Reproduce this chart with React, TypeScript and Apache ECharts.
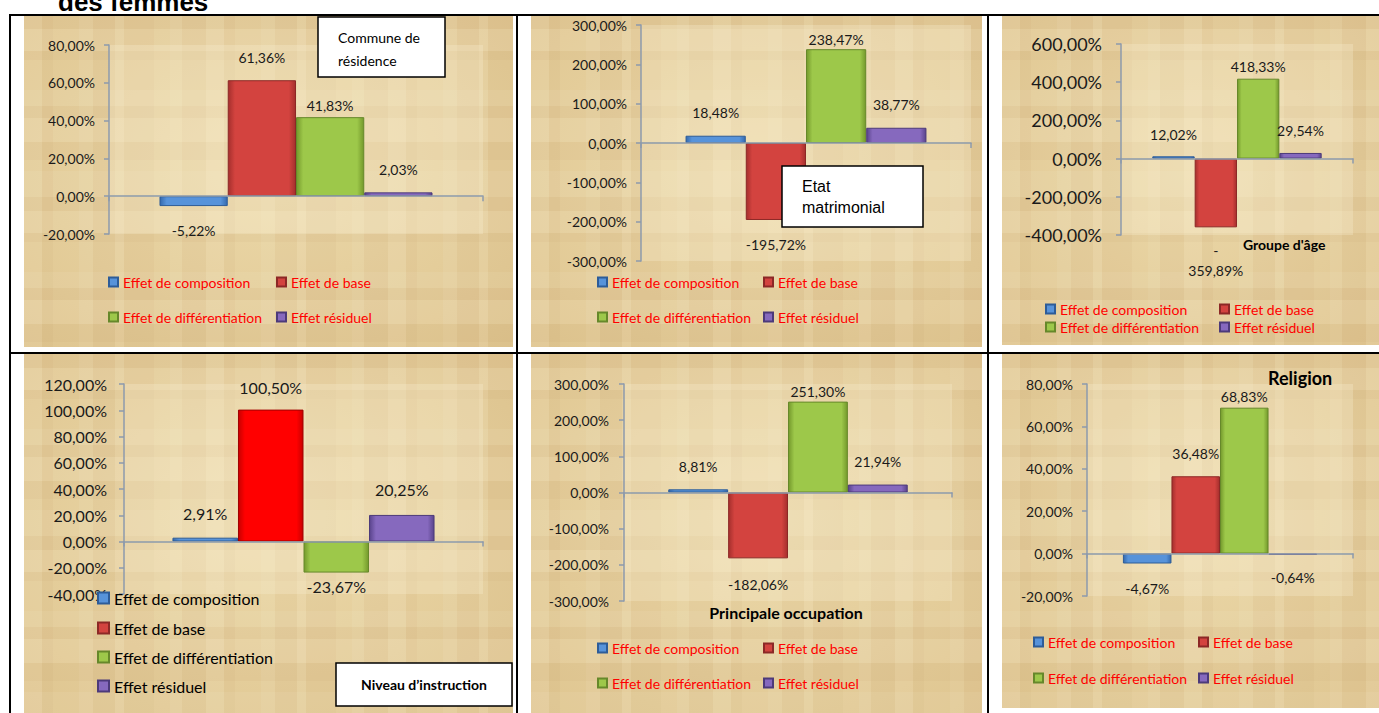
import React, { useEffect, useRef } from 'react';
import * as echarts from 'echarts';

// ---------- data ----------
const effectNames = ['Effet de composition', 'Effet de base', 'Effet de différentiation', 'Effet résiduel'];
const category = ['Femmes'];

const communeValues = [-5.22, 61.36, 41.83, 2.03];
const matrimonialValues = [18.48, -195.72, 238.47, 38.77];
const ageValues = [12.02, -359.89, 418.33, 29.54];
const instructionValues = [2.91, 100.5, -23.67, 20.25];
const occupationValues = [8.81, -182.06, 251.3, 21.94];
const religionValues = [-4.67, 36.48, 68.83, -0.64];

const communeTicks = [-20, 0, 20, 40, 60, 80];
const matrimonialTicks = [-300, -200, -100, 0, 100, 200, 300];
const ageTicks = [-400, -200, 0, 200, 400, 600];
const instructionTicks = [-40, -20, 0, 20, 40, 60, 80, 100, 120];
const occupationTicks = [-300, -200, -100, 0, 100, 200, 300];
const religionTicks = [-20, 0, 20, 40, 60, 80];

const chartTitles = ['Commune de\nrésidence', 'Etat\nmatrimonial', "Groupe d'âge", 'Niveau d’instruction', 'Principale occupation', 'Religion'];
const pageHeading = 'des femmes';

// ---------- styles / layout ----------
const LG = echarts.graphic.LinearGradient;
const bevel = (edge: string, mid: string) =>
  new LG(0, 0, 1, 0, [
    { offset: 0, color: edge },
    { offset: 0.1, color: mid },
    { offset: 0.9, color: mid },
    { offset: 1, color: edge },
  ]);
const effectColors = [
  { fill: bevel('#356AAE', '#5793DA'), border: '#2D5C98' },
  { fill: bevel('#A52F2D', '#D3433F'), border: '#8C2826' },
  { fill: bevel('#74992C', '#9DC84A'), border: '#66882A' },
  { fill: bevel('#5A448C', '#8669BE'), border: '#4C3A7A' },
];
const brightRed = { fill: bevel('#C80000', '#FF0000'), border: '#A00000' };

type Layout = {
  values: number[];
  ticks: number[];
  grid: number[];
  font: number;
  axisFont: number;
  margin: number;
  dist: number[];
  legendPos: number[][];
  legendFont: number;
  legendColor: string;
  icon: number;
  wrapNeg?: boolean;
  redOverride?: boolean;
};

const layouts: Layout[] = [
  {
    values: communeValues, ticks: communeTicks, grid: [109, 45, 374, 189], font: 14, axisFont: 14, margin: 14,
    dist: [14, 13, 2, 13], legendPos: [[108, 282], [276, 282], [108, 317], [276, 317]], legendFont: 14, legendColor: '#FF0000', icon: 9,
  },
  {
    values: matrimonialValues, ticks: matrimonialTicks, grid: [641, 25, 330, 236], font: 14, axisFont: 14, margin: 14,
    dist: [13, 15, 0, 13], legendPos: [[597, 282], [763, 282], [597, 317], [763, 317]], legendFont: 14, legendColor: '#FF0000', icon: 9,
  },
  {
    values: ageValues, ticks: ageTicks, grid: [1121, 44, 232, 191], font: 14, axisFont: 18, margin: 19,
    dist: [12, 13, 2, 12], legendPos: [[1045, 309], [1219, 309], [1045, 327], [1219, 327]], legendFont: 14, legendColor: '#FF0000', icon: 9, wrapNeg: true,
  },
  {
    values: instructionValues, ticks: instructionTicks, grid: [124, 384, 359, 210], font: 16, axisFont: 16, margin: 17,
    dist: [13, 11, 3, 14], legendPos: [[97, 598], [97, 628], [97, 657], [97, 686]], legendFont: 16, legendColor: '#000000', icon: 11, redOverride: true,
  },
  {
    values: occupationValues, ticks: occupationTicks, grid: [624, 384, 328, 217], font: 14, axisFont: 14, margin: 15,
    dist: [13, 16, 0, 13], legendPos: [[597, 648], [763, 648], [597, 683], [763, 683]], legendFont: 14, legendColor: '#FF0000', icon: 9,
  },
  {
    values: religionValues, ticks: religionTicks, grid: [1087, 384, 266, 212], font: 14, axisFont: 14, margin: 14,
    dist: [15, 13, 1, 13], legendPos: [[1033, 642], [1198, 642], [1033, 678], [1198, 678]], legendFont: 14, legendColor: '#FF0000', icon: 9,
  },
];

const cells = [
  [24, 15, 489, 332],
  [531, 15, 451, 332],
  [1002, 15, 377, 330],
  [24, 354, 489, 359],
  [531, 354, 451, 359],
  [1002, 354, 377, 354],
];

const stripeWidths = [18, 11, 26, 14, 22, 9, 30, 16, 12, 24];
const stripeTones = ['rgba(255,250,230,0.10)', 'rgba(150,110,50,0.04)', 'rgba(255,255,255,0)', 'rgba(255,250,235,0.07)', 'rgba(150,110,50,0.03)'];

const fmt = (v: number) => v.toFixed(2).replace('.', ',') + '%';
const FONT = 'Lato, "Open Sans", sans-serif';
const AXIS_COLOR = '#8C9AAC';

function paperElements(): any[] {
  const els: any[] = [];
  cells.forEach(([x0, y0, w, h]) => {
    els.push({
      type: 'rect', z: -20, silent: true,
      shape: { x: x0, y: y0, width: w, height: h },
      style: {
        fill: new echarts.graphic.RadialGradient(0.5, 0.45, 0.8, [
          { offset: 0, color: '#ECD9AA' },
          { offset: 1, color: '#DEC48E' },
        ]),
      },
    });
    let x = x0, i = 0;
    while (x < x0 + w) {
      const sw = Math.min(stripeWidths[i % stripeWidths.length], x0 + w - x);
      els.push({ type: 'rect', z: -19, silent: true, shape: { x, y: y0, width: sw, height: h }, style: { fill: stripeTones[i % stripeTones.length] } });
      x += sw; i++;
    }
    let y = y0; i = 3;
    while (y < y0 + h) {
      const sh = Math.min(stripeWidths[i % stripeWidths.length], y0 + h - y);
      els.push({ type: 'rect', z: -18, silent: true, shape: { x: x0, y, width: w, height: sh }, style: { fill: stripeTones[(i + 1) % stripeTones.length] } });
      y += sh; i++;
    }
  });
  return els;
}

function borderElements(): any[] {
  const line = (x1: number, y1: number, x2: number, y2: number) => ({
    type: 'line', z: 50, silent: true,
    shape: { x1, y1, x2, y2 },
    style: { stroke: '#000', lineWidth: 2 },
  });
  return [
    line(10, 15, 1379, 15),
    line(10, 353, 1379, 353),
    line(10, 14, 10, 713),
    line(517, 14, 517, 713),
    line(988, 14, 988, 713),
  ];
}

function textEl(text: string, x: number, y: number, size: number, opts: any = {}) {
  return {
    type: 'text', z: 101, x, y, silent: true,
    style: {
      text,
      fontSize: size,
      fontFamily: opts.family || FONT,
      fontWeight: opts.weight || 'normal',
      fill: '#000',
      align: opts.align || 'left',
      verticalAlign: 'middle',
      textAlign: opts.align || 'left',
      textVerticalAlign: 'middle',
      lineHeight: opts.lineHeight || size * 1.3,
    },
  };
}

function boxEl(x: number, y: number, w: number, h: number) {
  return {
    type: 'rect', z: 100, silent: true,
    shape: { x, y, width: w, height: h },
    style: { fill: '#fff', stroke: '#000', lineWidth: 1.5 },
  };
}

function titleElements(): any[] {
  return [
    textEl(pageHeading, 58, 2, 26, { family: '"Liberation Sans", Arial, sans-serif', weight: 'bold' }),
    boxEl(318, 17, 127, 60),
    textEl(chartTitles[0], 338, 48.5, 14, { lineHeight: 23 }),
    boxEl(782, 166, 141, 61),
    textEl(chartTitles[1], 802, 196.5, 16, { family: '"Liberation Sans", Arial, sans-serif', lineHeight: 21 }),
    textEl(chartTitles[2], 1243, 244, 14, { weight: 'bold' }),
    boxEl(336, 663, 176, 43),
    textEl(chartTitles[3], 424, 684, 14, { weight: 'bold', align: 'center' }),
    textEl(chartTitles[4], 786, 612, 16, { weight: 'bold', align: 'center' }),
    textEl(chartTitles[5], 1268, 378, 18, { weight: 'bold' }),
  ];
}

function buildOption() {
  const grid: any[] = [];
  const xAxis: any[] = [];
  const yAxis: any[] = [];
  const series: any[] = [];
  const legend: any[] = [];

  layouts.forEach((L, ci) => {
    const [left, top, width, height] = L.grid;
    grid.push({ left, top, width, height, show: true, backgroundColor: 'rgba(250,240,210,0.30)', borderWidth: 0, containLabel: false });
    xAxis.push({
      type: 'category', gridIndex: ci, data: category,
      axisLine: { show: true, onZero: true, lineStyle: { color: AXIS_COLOR, width: 1.5 } },
      axisTick: { show: true, length: 5, alignWithLabel: false, lineStyle: { color: AXIS_COLOR, width: 1.5 } },
      axisLabel: { show: false },
      splitLine: { show: false },
      z: 3,
    });
    const min = L.ticks[0];
    const max = L.ticks[L.ticks.length - 1];
    yAxis.push({
      type: 'value', gridIndex: ci, min, max, interval: L.ticks[1] - L.ticks[0],
      axisLine: { show: true, lineStyle: { color: AXIS_COLOR, width: 1.5 } },
      axisTick: { show: true, length: 5, lineStyle: { color: AXIS_COLOR, width: 1.5 } },
      axisLabel: {
        formatter: (v: number) => fmt(v), fontSize: L.axisFont, fontFamily: FONT, color: '#1a1a1a',
        margin: L.margin, showMinLabel: true, showMaxLabel: true,
      },
      splitLine: { show: false },
    });
    L.values.forEach((v, k) => {
      const c = L.redOverride && k === 1 ? brightRed : effectColors[k];
      series.push({
        type: 'bar', name: effectNames[k], xAxisIndex: ci, yAxisIndex: ci,
        barGap: '0%', barCategoryGap: '27%',
        itemStyle: { color: effectColors[k].fill, borderColor: effectColors[k].border, borderWidth: 1 },
        label: {
          show: true, position: 'outside', fontSize: L.font, fontFamily: FONT, color: '#1a1a1a',
          lineHeight: L.font + 6,
          formatter: (p: any) => (L.wrapNeg && p.value < 0 ? '-\n' + fmt(-p.value) : fmt(p.value)),
        },
        data: [
          {
            value: v,
            itemStyle: { color: c.fill, borderColor: c.border, borderWidth: 1 },
            label: { distance: L.dist[k] },
          },
        ],
      });
      const [lx, ly] = L.legendPos[k];
      const lh = L.legendFont + 4;
      legend.push({
        data: [effectNames[k]], left: lx, top: ly - lh / 2, padding: 0, itemGap: 0,
        itemWidth: L.icon, itemHeight: L.icon, icon: 'rect', selectedMode: false,
        textStyle: { color: L.legendColor, fontSize: L.legendFont, fontFamily: FONT, lineHeight: lh },
      });
    });
  });

  return {
    animation: false,
    backgroundColor: '#ffffff',
    grid, xAxis, yAxis, series, legend,
    graphic: { elements: [...paperElements(), ...borderElements(), ...titleElements()] },
  };
}

export default function App() {
  const ref = useRef<HTMLDivElement>(null);
  useEffect(() => {
    if (!ref.current) return;
    const chart = echarts.init(ref.current, null, { renderer: 'svg' });
    chart.setOption(buildOption());
    return () => chart.dispose();
  }, []);
  return (
    <div
      ref={ref}
      style={{ position: 'absolute', left: 0, top: 0, width: 1379, height: 713, background: '#fff' }}
    />
  );
}
